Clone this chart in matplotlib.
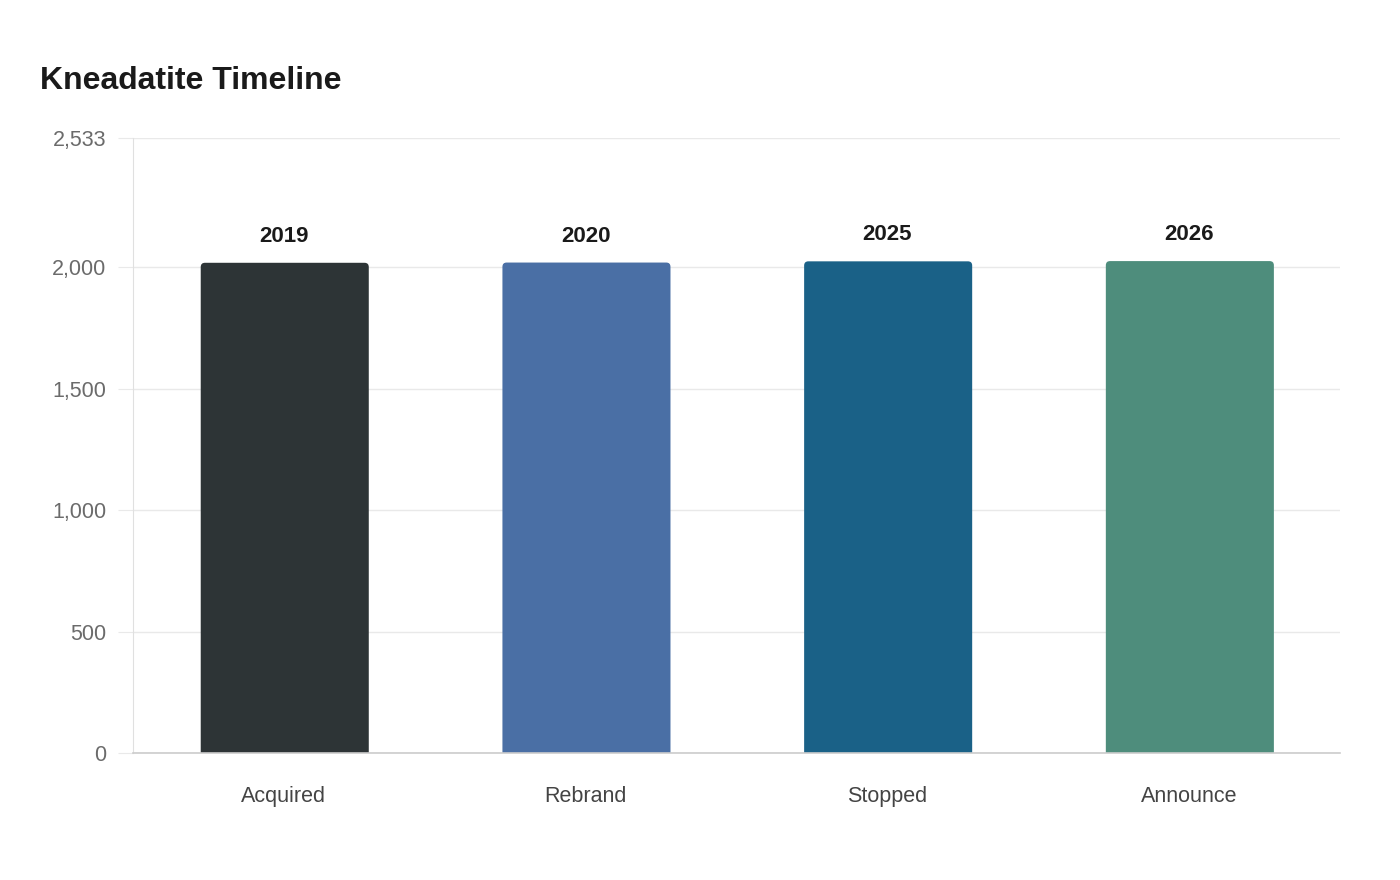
import matplotlib.pyplot as plt
from matplotlib.patches import FancyBboxPatch
from matplotlib.ticker import FuncFormatter

plt.rcParams['font.family'] = ['Liberation Sans', 'DejaVu Sans']

# data
events = ["Acquired", "Rebrand", "Stopped", "Announce"]
years = [2019, 2020, 2025, 2026]
colors = ["#2d3436", "#4a6fa5", "#1a6187", "#4e8d7c"]
yticks = [0, 500, 1000, 1500, 2000, 2533]

fig = plt.figure(figsize=(14, 8.8), dpi=100)
ax = fig.add_axes([0.095, 0.1443, 0.862, 0.6989])

bars = ax.bar(range(len(events)), years, width=0.557, color=colors)

# rounded top corners: swap each bar for a rounded patch (bottom corner hidden below 0)
r = 0.014
asp = (2533 / 615) / (1 / 301.75)
for b, c in zip(bars, colors):
    b.set_visible(False)
    p = FancyBboxPatch((b.get_x() + 0.003, -30), b.get_width(), b.get_height() + 30,
                       boxstyle="round,pad=0,rounding_size=%f" % r,
                       mutation_aspect=asp, facecolor=c, edgecolor="none")
    ax.add_patch(p)

for i, v in enumerate(years):
    ax.annotate(str(v), (i, v), xytext=(0, 11.5), textcoords="offset points",
                ha="center", va="bottom", fontsize=16, fontweight="bold", color="#1a1a1a")

ax.set_xlim(-0.5, len(events) - 0.5)
ax.set_ylim(0, 2533)
ax.set_yticks(yticks)
ax.yaxis.set_major_formatter(FuncFormatter(lambda v, p: f"{int(v):,}"))
ax.set_xticks(range(len(events)))
ax.set_xticklabels(events)

ax.grid(axis="y", color="#e9e9e9", linewidth=1)
ax.set_axisbelow(True)
ax.tick_params(axis="y", length=11, color="#e9e9e9", labelsize=15.5, labelcolor="#6b6b6b", pad=8)
ax.tick_params(axis="x", length=0, labelsize=15.5, labelcolor="#444444", pad=24)

for s in ["top", "right"]:
    ax.spines[s].set_visible(False)
ax.spines["left"].set_color("#e0e0e0")
ax.spines["bottom"].set_color("#cccccc")
ax.spines["bottom"].set_linewidth(1.2)

fig.text(40 / 1400, 1 - 81 / 880, "Kneadatite Timeline", fontsize=23, fontweight="bold",
         color="#1a1a1a", ha="left", va="center")

fig.savefig("out.png", dpi=100, facecolor="white")
